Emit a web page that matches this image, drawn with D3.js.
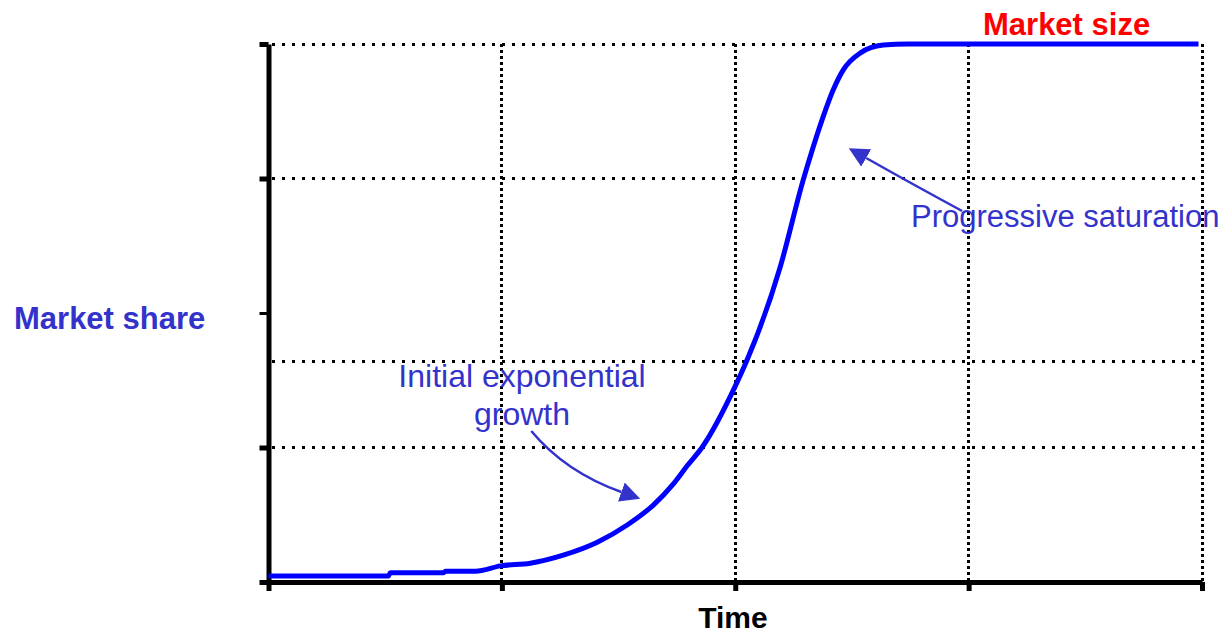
<!DOCTYPE html>
<html>
<head>
<meta charset="utf-8">
<script src="https://cdn.jsdelivr.net/npm/d3@7"></script>
<style>
  body { margin: 0; background: #fff; }
  text { font-family: "Liberation Sans", Arial, sans-serif; }
</style>
</head>
<body>
<div id="chart"></div>
<script>
// DATA
let timeVals  = [0, 5.14, 5.22, 7.49, 7.58, 8.87, 9.94, 11.22, 12.63, 14.09, 15.37, 16.49, 17.34, 17.94, 18.59, 20.0, 20.51, 21.93, 22.91, 23.3, 23.72, 24.19, 24.63, 25.35, 26.34, 27.37, 39.85];
let shareVals = [1.1, 1.1, 1.7, 1.7, 2.0, 2.0, 3.0, 3.5, 5.0, 7.4, 10.6, 14.3, 18.2, 21.6, 25.1, 36.4, 41.3, 58.6, 74.7, 80.3, 85.9, 91.4, 95.2, 98.3, 99.8, 100, 100];

let xTicks = [0, 10, 20, 30, 40];
let yTicks = [0, 25, 50, 75, 100];
let xGrid = [10, 20, 30, 40];
let yGrid = [25, 41, 75, 100];

// annotation arrows: [start, control, end] in data units
let arrowGrowth = [[11.26, 28.07], [12.72, 20.45], [15.12, 16.73]];
let arrowSat = [[29.72, 68.96], [27.58, 73.98], [25.61, 78.81]];

// PLOTTING VARIABLES
let width = 1228,
    height = 636;
let plot = {left: 268.5, right: 1202, top: 44, bottom: 582};
let blueText = '#3333cc';

let svg = d3.select('#chart')
    .append('svg')
    .attr('width', width)
    .attr('height', height);

let x = d3.scaleLinear().domain([0, 40]).range([plot.left, plot.right]);
let y = d3.scaleLinear().domain([0, 100]).range([plot.bottom, plot.top]);

// grid
svg.append('g')
    .selectAll('line')
    .data(yGrid)
    .enter()
    .append('line')
    .attr('x1', plot.left + 3)
    .attr('x2', plot.right)
    .attr('y1', d => y(d))
    .attr('y2', d => y(d))
    .attr('stroke', '#000')
    .attr('stroke-width', 3)
    .attr('stroke-dasharray', '3,7')
    .attr('shape-rendering', 'crispEdges');

svg.append('g')
    .selectAll('line')
    .data(xGrid)
    .enter()
    .append('line')
    .attr('x1', d => x(d))
    .attr('x2', d => x(d))
    .attr('y1', plot.top)
    .attr('y2', plot.bottom)
    .attr('stroke', '#000')
    .attr('stroke-width', 3)
    .attr('stroke-dasharray', '3,3')
    .attr('shape-rendering', 'crispEdges');

// axes
let yAxis = svg.append('g')
    .attr('transform', 'translate(' + plot.left + ',0)')
    .call(d3.axisLeft(y).tickValues(yTicks).tickSize(9).tickSizeOuter(0).tickFormat(''));
yAxis.select('.domain').attr('stroke-width', 5);
yAxis.selectAll('.tick line').attr('stroke-width', d => d == 50 ? 3 : 5);

let xAxis = svg.append('g')
    .attr('transform', 'translate(0,' + plot.bottom + ')')
    .call(d3.axisBottom(x).tickValues(xTicks).tickSize(9).tickSizeOuter(0).tickFormat(''));
xAxis.select('.domain').attr('stroke-width', 5);
xAxis.selectAll('.tick line').attr('stroke-width', 5);

// curve
let data = timeVals.map((t, i) => ({t: t, s: shareVals[i]}));
let line = d3.line()
    .curve(d3.curveMonotoneX)
    .x(d => x(d.t))
    .y(d => y(d.s));

svg.append('path')
    .datum(data)
    .attr('d', line)
    .attr('fill', 'none')
    .attr('stroke', '#0000ff')
    .attr('stroke-width', 5)
    .attr('stroke-linejoin', 'round');

// arrows
svg.append('defs')
    .append('marker')
    .attr('id', 'head')
    .attr('markerUnits', 'userSpaceOnUse')
    .attr('viewBox', '0 -10 20 20')
    .attr('refX', 0)
    .attr('refY', 0)
    .attr('markerWidth', 20)
    .attr('markerHeight', 20)
    .attr('orient', 'auto')
    .append('path')
    .attr('d', 'M0,-10L20,0L0,10Z')
    .attr('fill', blueText);

[arrowGrowth, arrowSat].forEach(a => {
    let p = a.map(d => [x(d[0]), y(d[1])]);
    svg.append('path')
        .attr('d', 'M' + p[0] + 'Q' + p[1] + ' ' + p[2])
        .attr('fill', 'none')
        .attr('stroke', blueText)
        .attr('stroke-width', 2.5)
        .attr('marker-end', 'url(#head)');
});

// labels
svg.append('text')
    .attr('x', 983).attr('y', 35)
    .attr('font-size', 31).attr('font-weight', 'bold')
    .attr('fill', '#ff0000')
    .text('Market size');

svg.append('text')
    .attr('x', 14).attr('y', 329)
    .attr('font-size', 31).attr('font-weight', 'bold')
    .attr('fill', blueText)
    .text('Market share');

svg.append('text')
    .attr('x', 733).attr('y', 628)
    .attr('text-anchor', 'middle')
    .attr('font-size', 30).attr('font-weight', 'bold')
    .attr('fill', '#000')
    .text('Time');

svg.append('text')
    .attr('x', 911).attr('y', 227)
    .attr('font-size', 31)
    .attr('fill', blueText)
    .text('Progressive saturation');

let growthLabel = svg.append('text')
    .attr('text-anchor', 'middle')
    .attr('font-size', 32)
    .attr('fill', blueText);
growthLabel.append('tspan').attr('x', 522).attr('y', 387).text('Initial exponential');
growthLabel.append('tspan').attr('x', 522).attr('y', 425).text('growth');
</script>
</body>
</html>
